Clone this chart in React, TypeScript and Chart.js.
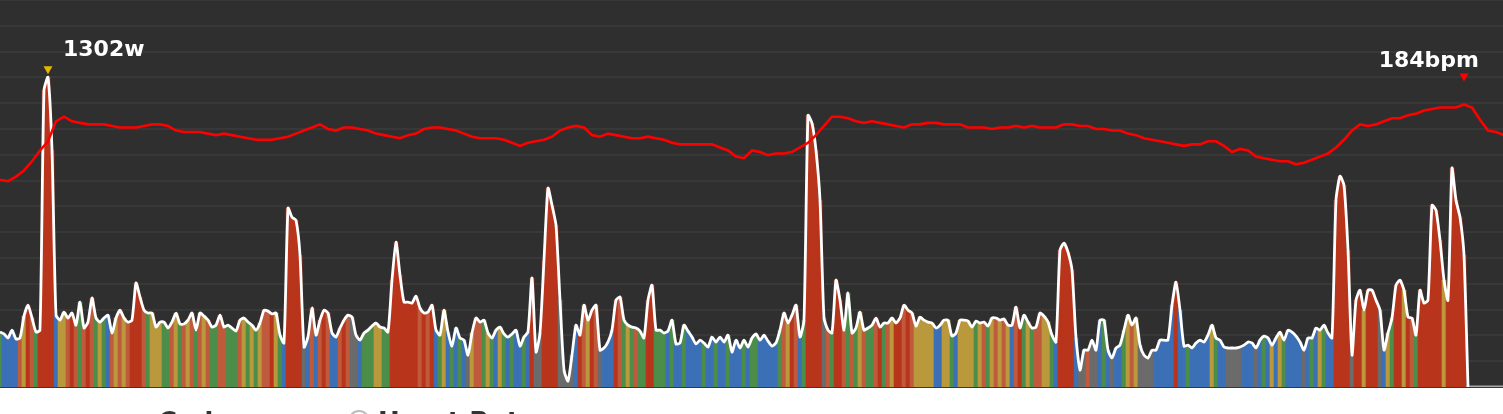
import React, { useEffect, useRef } from "react";
import { Chart, registerables } from "chart.js";

Chart.register(...registerables);

// Power samples (watts), one every time step
const powerWatts: number[] = [
  231, 223, 206, 239, 202, 206, 298, 344, 290, 231,
  239, 1247, 1302, 995, 302, 281, 315, 290, 311, 260,
  357, 248, 273, 374, 290, 273, 290, 302, 227, 290,
  323, 290, 273, 281, 437, 378, 323, 311, 311, 252,
  273, 273, 248, 273, 311, 265, 265, 281, 311, 239,
  311, 298, 281, 252, 260, 302, 252, 260, 248, 235,
  281, 290, 273, 260, 239, 269, 323, 319, 307, 311,
  218, 185, 752, 714, 701, 554, 168, 210, 332, 218,
  281, 323, 311, 227, 210, 248, 281, 302, 294, 218,
  197, 227, 239, 256, 269, 252, 248, 231, 449, 609,
  470, 357, 357, 353, 382, 332, 311, 315, 344, 239,
  218, 323, 231, 172, 248, 206, 197, 134, 227, 290,
  273, 281, 227, 206, 239, 252, 223, 210, 223, 239,
  172, 210, 231, 458, 147, 227, 533, 836, 764, 680,
  365, 71, 25, 134, 260, 218, 344, 281, 323, 344,
  155, 164, 189, 239, 365, 378, 281, 260, 252, 248,
  235, 206, 365, 428, 239, 239, 227, 235, 281, 181,
  185, 260, 235, 210, 181, 197, 185, 168, 210, 189,
  210, 189, 218, 147, 197, 164, 197, 168, 206, 223,
  197, 218, 193, 172, 185, 239, 311, 269, 302, 344,
  210, 281, 1142, 1109, 995, 785, 290, 239, 227, 449,
  365, 239, 395, 227, 248, 315, 239, 248, 260, 290,
  252, 269, 269, 290, 269, 290, 344, 323, 311, 256,
  294, 281, 273, 269, 248, 260, 281, 281, 214, 227,
  281, 281, 277, 252, 277, 269, 273, 256, 290, 290,
  281, 286, 260, 260, 336, 248, 302, 273, 248, 252,
  311, 298, 273, 218, 189, 575, 605, 567, 491, 206,
  71, 155, 155, 197, 155, 281, 281, 155, 122, 164,
  176, 239, 302, 260, 290, 176, 134, 122, 155, 155,
  197, 197, 197, 344, 441, 323, 172, 176, 164, 185,
  197, 189, 218, 260, 206, 197, 168, 164, 164, 164,
  168, 176, 189, 185, 164, 197, 214, 206, 176, 206,
  231, 197, 239, 231, 214, 189, 155, 206, 206, 248,
  239, 260, 227, 206, 785, 886, 848, 575, 134, 365,
  407, 323, 407, 407, 365, 323, 155, 227, 290, 428,
  449, 407, 294, 290, 218, 407, 353, 365, 764, 743,
  617, 449, 365, 920, 785, 714, 554, 0,
];

// Zone of each power sample: K grey, B blue, G green, Y yellow, O orange, R red
const powerZones: string =
  "GBBBBOYROG" + "RRRRBYYORO" + "GOROGYGBOY" + "OYORRROGYY" +
  "YGGOYGOYOG" + "OYOGGOOGGG" + "OYGYGYOORY" + "GBRRRRKBOB" +
  "OROBBOROKK" + "BGGGYYGGRR" + "RRRRRORORB" + "GYBGBGBKYO" +
  "OGYGBYGBGB" + "BGBRKKRRRR" + "KKKKBROYRO" + "KBBBROGYGO" +
  "GGRRGGGBGB" + "BGBBBBGBBG" + "BBGBBBGBGG" + "BBBBBGOYRO" +
  "BGRRRRKOGR" + "ROGOGYOGGO" + "RGOYRROROY" + "YYYYBBYYGB" +
  "YYYYGYOGYO" + "YOYBORGYGO" + "OYYGBRRRRB" + "KKOKKBGBKB" +
  "BGYOYKKKKB" + "BBBBRBBGBB" + "BBBYGBBKKK" + "KBBBKBGBYB" +
  "YGBBBBKBGB" + "YGBBRRRRKR" + "RYRRRKBYGR" + "RYROGRRRRR" +
  "RYRRRRRK";

// Heart rate (bpm), one sample every 2 power samples
const heartRate: number[] = [
  135, 134, 137, 141, 147, 154, 160, 173, 176, 173,
  172, 171, 171, 171, 170, 169, 169, 169, 170, 171,
  171, 170, 167, 166, 166, 166, 165, 164, 165, 164,
  163, 162, 161, 161, 161, 162, 163, 165, 167, 169,
  171, 168, 167, 169, 169, 168, 167, 165, 164, 163,
  162, 164, 165, 168, 169, 169, 168, 167, 165, 163,
  162, 162, 162, 161, 159, 157, 159, 160, 161, 163,
  167, 169, 170, 169, 164, 163, 165, 164, 163, 162,
  162, 163, 162, 161, 159, 158, 158, 158, 158, 158,
  156, 154, 150, 149, 154, 153, 151, 152, 152, 153,
  156, 159, 164, 170, 176, 176, 175, 173, 172, 173,
  172, 171, 170, 169, 171, 171, 172, 172, 171, 171,
  171, 169, 169, 169, 168, 169, 169, 170, 169, 170,
  169, 169, 169, 171, 171, 170, 170, 168, 168, 167,
  167, 165, 164, 162, 161, 160, 159, 158, 157, 158,
  158, 160, 160, 157, 153, 155, 154, 150, 149, 148,
  147, 147, 145, 146, 148, 150, 152, 156, 161, 167,
  171, 170, 171, 173, 175, 175, 177, 178, 180, 181,
  182, 182, 182, 184, 182, 174, 167, 166, 164,
];
const heartRateEvery = 2;

const timeAxisMax = 375.75;
const powerAxisMax = 1627;
const heartRateAxisMax = 252;
const gridDivisions = 15;

const legendLabels = ["Cadence", "Heart Rate"];

const zoneColours: Record<string, string> = {
  K: "#6b6b6b",
  B: "#3b6fb6",
  G: "#4c8e49",
  Y: "#b9993c",
  O: "#c05a3d",
  R: "#b8341a",
};

const FONT = '"DejaVu Sans", "Noto Sans", sans-serif';

const backgroundPlugin = {
  id: "darkArea",
  beforeDraw(chart: any) {
    const { ctx, chartArea } = chart;
    ctx.save();
    ctx.fillStyle = "#ffffff";
    ctx.fillRect(0, 0, chart.width, chart.height);
    ctx.fillStyle = "#2f2f2f";
    ctx.fillRect(chartArea.left, chartArea.top, chartArea.right - chartArea.left, chartArea.bottom - chartArea.top);
    ctx.restore();
  },
  beforeDatasetsDraw(chart: any) {
    const { ctx, chartArea } = chart;
    ctx.save();
    ctx.strokeStyle = "#a8a8a8";
    ctx.lineWidth = 1.5;
    ctx.beginPath();
    ctx.moveTo(chartArea.left, chartArea.bottom - 0.75);
    ctx.lineTo(chartArea.right, chartArea.bottom - 0.75);
    ctx.stroke();
    ctx.restore();
  },
};

function drawMarker(
  chart: any,
  px: number,
  py: number,
  text: string,
  colour: string,
  tipGap: number,
  textGap: number
) {
  const { ctx, chartArea } = chart;
  ctx.save();
  const tipY = py - tipGap;
  ctx.fillStyle = colour;
  ctx.beginPath();
  ctx.moveTo(px - 4.5, tipY - 8);
  ctx.lineTo(px + 4.5, tipY - 8);
  ctx.lineTo(px, tipY);
  ctx.closePath();
  ctx.fill();
  ctx.font = `bold 22px ${FONT}`;
  ctx.fillStyle = "#ffffff";
  ctx.textBaseline = "alphabetic";
  const w = ctx.measureText(text).width;
  const baseY = py - textGap;
  ctx.textAlign = px + 15 + w > chartArea.right ? "right" : "left";
  ctx.fillText(text, px + 15, baseY);
  ctx.restore();
}

const markerPlugin = {
  id: "peakMarkers",
  afterDatasetsDraw(chart: any) {
    const xs = chart.scales.x;
    const yp = chart.scales.yPower;
    const yh = chart.scales.yHr;
    let pi = 0;
    powerWatts.forEach((v, i) => {
      if (v > powerWatts[pi]) pi = i;
    });
    let hi = 0;
    heartRate.forEach((v, i) => {
      if (v > heartRate[hi]) hi = i;
    });
    drawMarker(chart, xs.getPixelForValue(pi), yp.getPixelForValue(powerWatts[pi]), `${powerWatts[pi]}w`, "#e8b400", 3, 21);
    drawMarker(chart, xs.getPixelForValue(hi * heartRateEvery), yh.getPixelForValue(heartRate[hi]), `${heartRate[hi]}bpm`, "#ff0000", 23, 37);
  },
};

export default function App() {
  const ref = useRef<HTMLCanvasElement | null>(null);

  useEffect(() => {
    if (!ref.current) return;
    const powerPoints = powerWatts.map((v, i) => ({ x: i, y: v }));
    const hrPoints = heartRate.map((v, j) => ({ x: j * heartRateEvery, y: v }));
    const colours = powerWatts.map((_, i) => zoneColours[powerZones[i]] || zoneColours.K);

    const chart = new Chart(ref.current, {
      type: "bar",
      data: {
        datasets: [
          {
            type: "line",
            label: "Heart Rate",
            data: hrPoints,
            yAxisID: "yHr",
            borderColor: "#ff0000",
            borderWidth: 2.6,
            pointRadius: 0,
            tension: 0,
            order: 0,
          } as any,
          {
            type: "line",
            label: "Power",
            data: powerPoints,
            yAxisID: "yPower",
            borderColor: "#ffffff",
            borderWidth: 2.8,
            pointRadius: 0,
            tension: 0.2,
            order: 1,
          } as any,
          {
            type: "bar",
            label: "Power zones",
            data: powerPoints,
            yAxisID: "yPower",
            backgroundColor: colours,
            borderWidth: 0,
            barPercentage: 1,
            categoryPercentage: 1,
            order: 2,
          } as any,
        ],
      },
      options: {
        animation: false,
        responsive: false,
        maintainAspectRatio: false,
        layout: { padding: { left: 0, right: 0, top: 0, bottom: 27 } },
        plugins: { legend: { display: false }, tooltip: { enabled: false } },
        scales: {
          x: { type: "linear", min: 0, max: timeAxisMax, display: false, offset: false },
          yPower: { type: "linear", position: "left", min: 0, max: powerAxisMax, display: false },
          yHr: { type: "linear", position: "right", min: 0, max: heartRateAxisMax, display: false },
          grid: {
            type: "linear",
            position: "left",
            min: 0,
            max: gridDivisions,
            ticks: { display: false, stepSize: 1 },
            grid: { color: "#383838", lineWidth: 2, drawTicks: false },
            border: { display: false },
          },
        },
      } as any,
      plugins: [backgroundPlugin, markerPlugin],
    });
    return () => chart.destroy();
  }, []);

  const legendFont: React.CSSProperties = {
    position: "absolute",
    top: 409,
    font: `bold 26px ${FONT}`,
    lineHeight: "26px",
    color: "#333333",
    whiteSpace: "nowrap",
  };

  return (
    <div
      style={{
        position: "fixed",
        left: 0,
        top: 0,
        width: 1503,
        height: 414,
        overflow: "hidden",
        background: "#ffffff",
      }}
    >
      <canvas ref={ref} width={1503} height={414} style={{ display: "block", width: 1503, height: 414 }} />
      <div style={{ ...legendFont, left: 158 }}>{legendLabels[0]}</div>
      <div
        style={{
          position: "absolute",
          left: 348,
          top: 410,
          width: 18,
          height: 18,
          borderRadius: "50%",
          border: "2px solid #bdbdbd",
          boxSizing: "content-box",
        }}
      />
      <div style={{ ...legendFont, left: 378 }}>{legendLabels[1]}</div>
    </div>
  );
}
